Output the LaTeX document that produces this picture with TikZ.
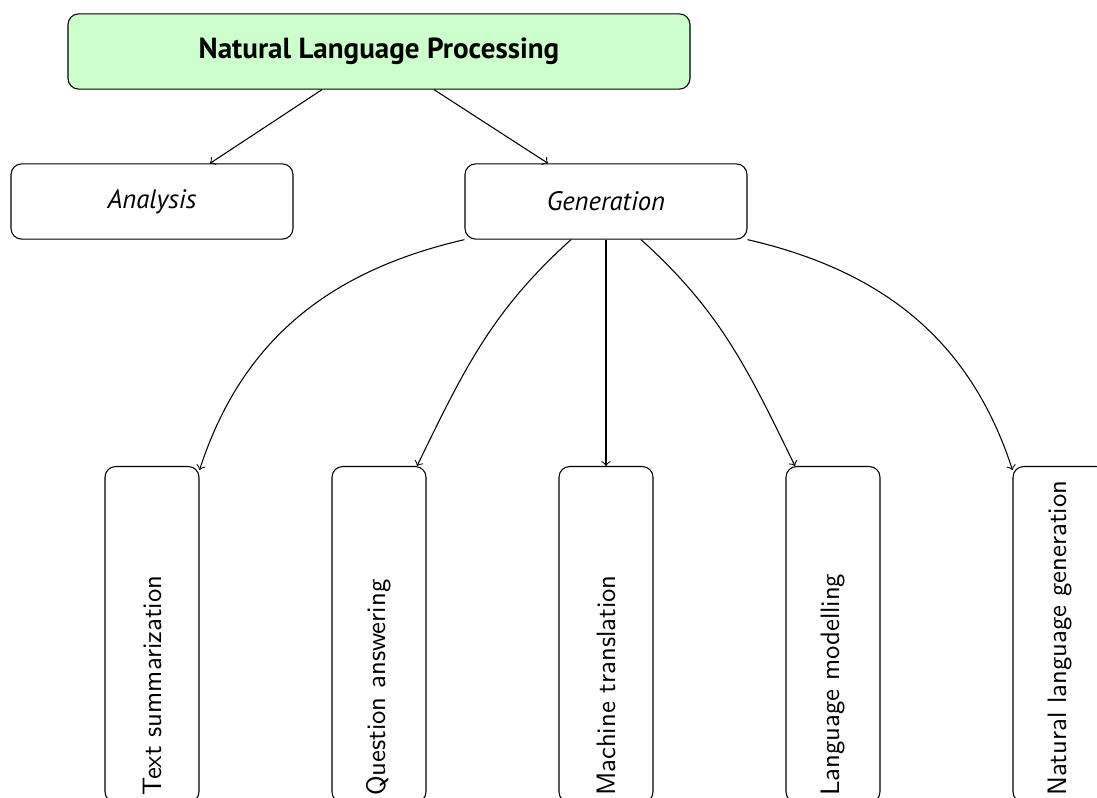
\documentclass[tikz,border=0pt]{standalone}
\usepackage{fontspec}
\usepackage{tikz}
\usetikzlibrary{calc}
\newfontfamily\headfont{PT Sans}
\definecolor{rootgreen}{HTML}{CCFFCC}

\tikzset{
  rootbox/.style={draw, rounded corners, fill=rootgreen, minimum width=233.25pt,
    minimum height=28.2pt, font=\headfont\bfseries\fontsize{10.9}{13}\selectfont},
  subbox/.style={draw, rounded corners, minimum width=105.75pt,
    minimum height=28.2pt, font=\headfont\itshape},
  leafbox/.style={draw, rounded corners, rotate=90, minimum height=35.25pt,
    text width=121pt, inner xsep=2.5pt, align=left, font=\sffamily},
  link/.style={->}
}

\begin{document}
\begin{tikzpicture}[x=0.375pt, y=-0.375pt]
\useasboundingbox (0,0) rectangle (1097,798);

\node[rootbox] (nlp) at (379,51.5) {Natural Language Processing};
\node[subbox] (ana) at (152,201.5) {Analysis};
\node[subbox] (gen) at (606,201.5) {Generation};

\foreach \lbl [count=\i] in {Text summarization, Question answering,
    Machine translation, Language modelling, Natural language generation}{
  \node[leafbox, anchor=east] (leaf\i) at ({152+227*(\i-1)},466) {\lbl};
}

\draw[link] ($(nlp.south)+(-57,0)$) -- ($(ana.north)+(58,0)$);
\draw[link] ($(nlp.south)+(55,0)$) -- ($(gen.north)+(-58,0)$);

% generation branches
\draw[link] (gen.south west) to[out=193, in=72] ($(leaf1.south east)+(0,4)$);
\draw[link] ($(gen.south)+(-35,0)$) to[out=222, in=64] ($(leaf2.east)+(38,0)$);
\draw[link] (gen.south) -- (leaf3.east);
\draw[link] ($(gen.south)+(35,0)$) to[out=-42, in=116] ($(leaf4.east)+(-38,0)$);
\draw[link] (gen.south east) to[out=-13, in=108] ($(leaf5.north east)+(0,4)$);
\end{tikzpicture}
\end{document}
